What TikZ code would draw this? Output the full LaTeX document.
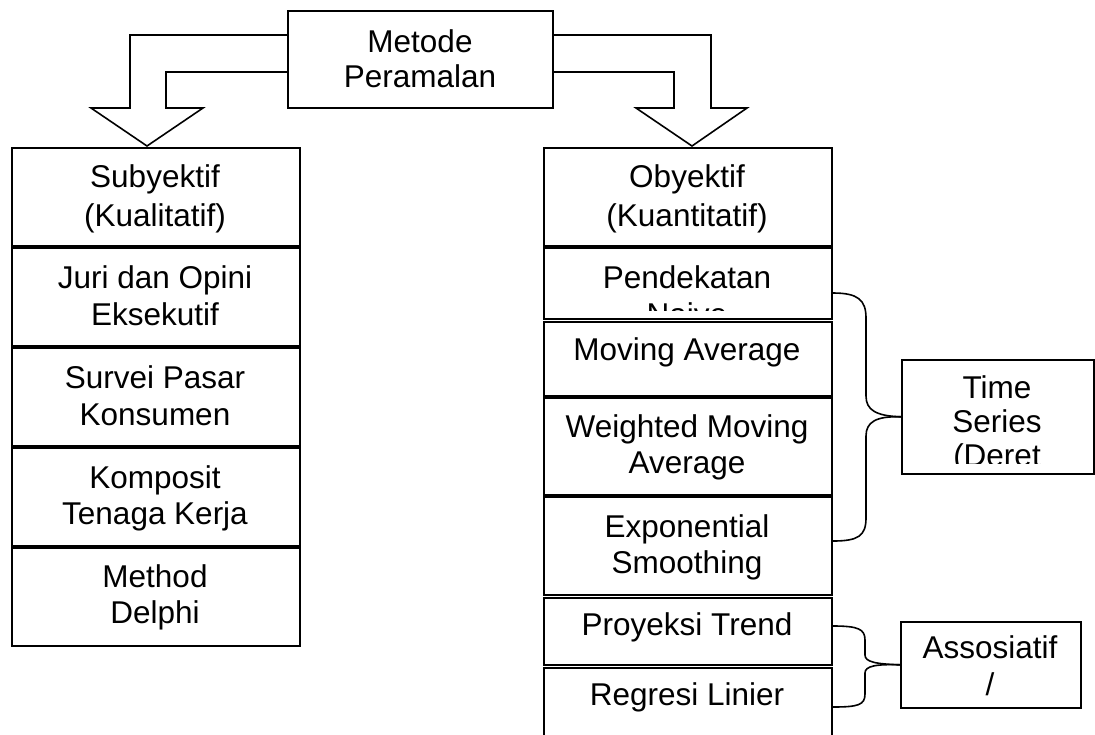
\documentclass[tikz,border=0pt]{standalone}
\usepackage{fontspec}
\setmainfont{Liberation Sans}
\begin{document}
\begin{tikzpicture}[x=1pt,y=-1pt,
  box/.style={draw=black, line width=1.6pt, inner sep=0pt, anchor=north west},
  txt/.style={font=\fontsize{31.5}{37}\selectfont, align=center, anchor=base, inner sep=0pt},
  blockarrow/.style={draw=black, line width=1.6pt, line join=miter},
  bracecurve/.style={draw=black, line width=1.6pt}]
\useasboundingbox (0,0) rectangle (1095,734);
\clip (0,0) rectangle (1095,734);
% top box
\node[box, minimum width=265pt, minimum height=97pt] (metode) at (287,10) {};
\node[txt, font=\fontsize{31.5}{35}\selectfont] (tmetode) at (420,87) {Metode\\Peramalan};
% left column
\node[box, minimum width=288pt, minimum height=98pt] (subj) at (11,147) {};
\node[box, minimum width=288pt, minimum height=98pt] (juri) at (11,247) {};
\node[box, minimum width=288pt, minimum height=98pt] (survei) at (11,347) {};
\node[box, minimum width=288pt, minimum height=98pt] (komp) at (11,447) {};
\node[box, minimum width=288pt, minimum height=98pt] (delphi) at (11,547) {};
\node[txt, font=\fontsize{31.5}{39}\selectfont] (tsubj) at (155,226) {Subyektif\\(Kualitatif)};
\node[txt] (tjuri) at (155,325) {Juri dan Opini\\Eksekutif};
\node[txt] (tsurvei) at (155,425) {Survei Pasar\\Konsumen};
\node[txt, font=\fontsize{31.5}{36}\selectfont] (tkomp) at (155,524) {Komposit\\Tenaga Kerja};
\node[txt, font=\fontsize{31.5}{36}\selectfont] (tdelphi) at (155,623) {Method\\Delphi};
% right column
\node[box, minimum width=288pt, minimum height=98pt] (obj) at (543,147) {};
\node[box, minimum width=288pt, minimum height=71pt] (pend) at (543,247) {};
\node[box, minimum width=288pt, minimum height=74pt] (ma) at (543,321) {};
\node[box, minimum width=288pt, minimum height=97pt] (wma) at (543,397) {};
\node[box, minimum width=288pt, minimum height=98pt] (expo) at (543,496) {};
\node[box, minimum width=288pt, minimum height=67pt] (proy) at (543,597) {};
\node[box, minimum width=288pt, minimum height=100pt] (reg) at (543,667) {};
\node[txt, font=\fontsize{31.5}{39}\selectfont] (tobj) at (687,226) {Obyektif\\(Kuantitatif)};
\begin{scope}
  \clip (543,247) rectangle (831,310);
  \node[txt] (tpend) at (687,325) {Pendekatan\\Naive};
\end{scope}
\node[txt] (tma) at (687,360) {Moving Average};
\node[txt, font=\fontsize{31.5}{36}\selectfont] (twma) at (687,473) {Weighted Moving\\Average};
\node[txt, font=\fontsize{31.5}{36}\selectfont] (texpo) at (687,573) {Exponential\\Smoothing};
\node[txt] (tproy) at (687,635) {Proyeksi Trend};
\node[txt] (treg) at (687,705) {Regresi Linier};
% side boxes
\node[box, minimum width=192pt, minimum height=114pt] (ts) at (901,359) {};
\node[box, minimum width=180pt, minimum height=86pt] (as) at (900,621) {};
\begin{scope}
  \clip (901,359) rectangle (1093,463);
  \node[txt, font=\fontsize{31.5}{34}\selectfont] (tts) at (997,466) {Time\\Series\\(Deret};
\end{scope}
\begin{scope}
  \clip (900,621) rectangle (1080,703);
  \node[txt] (tas) at (990,695) {Assosiatif\\/};
\end{scope}
% block arrows
\coordinate (ltip) at (147,146);
\coordinate (rtip) at (692,146);
\draw[blockarrow] (metode.west |- 0,35) -- (130,35) -- (130,108) -- (91,108) -- (ltip) -- (203,108) -- (166,108) -- (166,72) -- (metode.west |- 0,72);
\draw[blockarrow] (metode.east |- 0,35) -- (711,35) -- (711,108) -- (747,108) -- (rtip) -- (636,108) -- (674,108) -- (674,72) -- (metode.east |- 0,72);
% braces
\draw[bracecurve] (833,293) .. controls (858,293) and (866,300) .. (866,318) -- (866,396) .. controls (866,410) and (876,416) .. (ts.west);
\draw[bracecurve] (ts.west) .. controls (876,416) and (866,422) .. (866,436) -- (866,518) .. controls (866,536) and (858,541) .. (833,541);
\draw[bracecurve] (833,626) .. controls (858,626) and (865,629) .. (865,640) -- (865,655) .. controls (865,662) and (876,664) .. (as.west);
\draw[bracecurve] (as.west) .. controls (876,664) and (865,666) .. (865,673) -- (865,694) .. controls (865,705) and (858,707) .. (833,707);
\end{tikzpicture}
\end{document}
